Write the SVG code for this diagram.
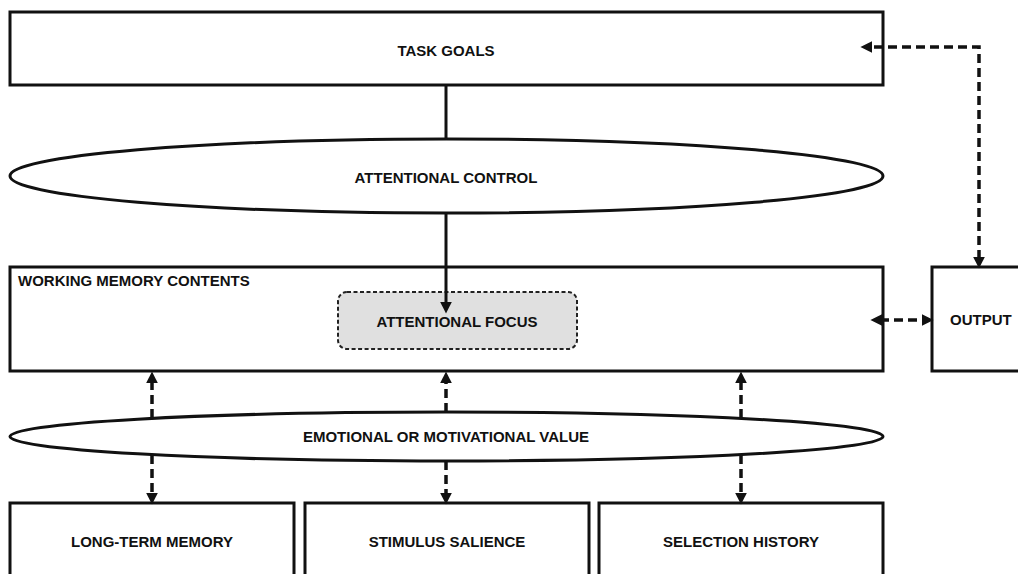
<svg xmlns="http://www.w3.org/2000/svg" width="1018" height="574" viewBox="0 0 1018 574">
<style>
.box{fill:#fff;stroke:#111;stroke-width:3}
.ell{fill:#fff;stroke:#111;stroke-width:3}
.focus{fill:#e0e0e0;stroke:#222;stroke-width:2;stroke-dasharray:4 2.5}
.t{font-family:"Liberation Sans",Arial,sans-serif;font-weight:bold;font-size:15px;fill:#111;text-anchor:middle}
.tl{text-anchor:start}
.solid{fill:none;stroke:#111;stroke-width:3}
.dash{fill:none;stroke:#111;stroke-width:3.5;stroke-dasharray:9 5}
</style>
<defs>
<marker id="ah" markerUnits="userSpaceOnUse" markerWidth="12" markerHeight="12" viewBox="0 0 10 10" refX="2" refY="5" orient="auto-start-reverse">
<path d="M0,0 L10,5 L0,10 z" fill="#111"/>
</marker>
</defs>
<rect width="1018" height="574" fill="#fff"/>
<g id="task-goals">
<rect class="box" x="10" y="12" width="873" height="73"/>
<text class="t" x="446" y="56">TASK GOALS</text>
</g>
<g id="attentional-control">
<ellipse class="ell" cx="446.5" cy="176" rx="436.5" ry="37"/>
<text class="t" x="446" y="183">ATTENTIONAL CONTROL</text>
</g>
<g id="working-memory">
<rect class="box" x="10" y="267" width="873" height="104"/>
<text class="t tl" x="18" y="286">WORKING MEMORY CONTENTS</text>
</g>
<g id="attentional-focus">
<rect class="focus" x="338" y="292" width="239" height="57" rx="9"/>
<text class="t" x="457" y="327">ATTENTIONAL FOCUS</text>
</g>
<g id="output">
<rect class="box" x="932" y="267" width="100" height="104"/>
<text class="t tl" x="950" y="325">OUTPUT</text>
</g>
<g id="emotional-value">
<ellipse class="ell" cx="446.5" cy="436.5" rx="436.5" ry="24.5"/>
<text class="t" x="446" y="442">EMOTIONAL OR MOTIVATIONAL VALUE</text>
</g>
<g id="long-term-memory">
<rect class="box" x="10" y="503" width="284" height="90"/>
<text class="t" x="152" y="547">LONG-TERM MEMORY</text>
</g>
<g id="stimulus-salience">
<rect class="box" x="305" y="503" width="284" height="90"/>
<text class="t" x="447" y="547">STIMULUS SALIENCE</text>
</g>
<g id="selection-history">
<rect class="box" x="599" y="503" width="284" height="90"/>
<text class="t" x="741" y="547">SELECTION HISTORY</text>
</g>
<g id="connectors">
<line class="solid" x1="446" y1="85" x2="446" y2="139"/>
<line class="solid" x1="446" y1="213" x2="446" y2="304" marker-end="url(#ah)"/>
<path class="dash" d="M979 259 V47 H870" marker-start="url(#ah)" marker-end="url(#ah)"/>
<path class="dash" d="M880 320 H924" marker-start="url(#ah)" marker-end="url(#ah)"/>
<line class="dash" x1="152" y1="418" x2="152" y2="381" marker-end="url(#ah)"/>
<line class="dash" x1="446" y1="412" x2="446" y2="381" marker-end="url(#ah)"/>
<line class="dash" x1="741" y1="418" x2="741" y2="381" marker-end="url(#ah)"/>
<line class="dash" x1="152" y1="455" x2="152" y2="495" marker-end="url(#ah)"/>
<line class="dash" x1="446" y1="461" x2="446" y2="495" marker-end="url(#ah)"/>
<line class="dash" x1="741" y1="455" x2="741" y2="495" marker-end="url(#ah)"/>
</g>
</svg>
